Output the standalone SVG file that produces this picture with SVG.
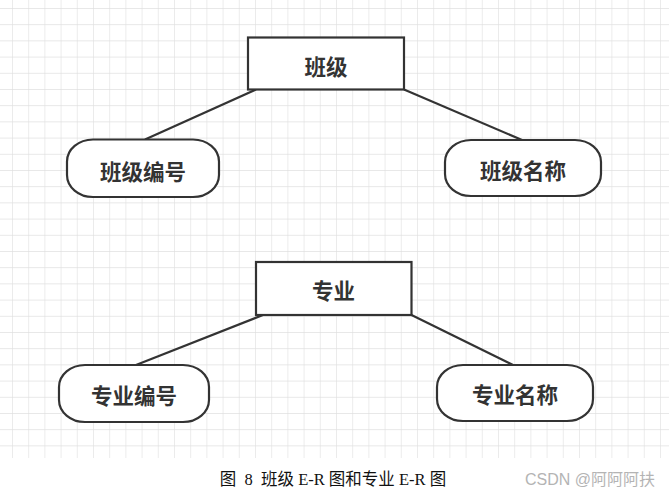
<svg xmlns="http://www.w3.org/2000/svg" width="669" height="500" viewBox="0 0 669 500">
<defs>
<pattern id="grid" x="12" y="8" width="16.2" height="16.2" patternUnits="userSpaceOnUse">
<path d="M0 0V16.2M0 0H16.2" fill="none" stroke="#e0e0e0" stroke-width="1.2"/>
</pattern>
</defs>
<style>
.ent{fill:#fff;stroke:#333;stroke-width:2.2}
.attr{fill:#fff;stroke:#333;stroke-width:2.2}
.lbl{font-family:"Noto Sans CJK SC","Noto Sans",sans-serif;font-weight:bold;font-size:21.5px;fill:#333;text-anchor:middle;dominant-baseline:central}
.conn line{stroke:#333;stroke-width:2.2}
</style>
<rect width="669" height="500" fill="#fff"/>
<rect x="0" y="0" width="669" height="458" fill="url(#grid)"/>
<g class="conn" id="connectors">
<line x1="256" y1="89.5" x2="145" y2="139.5"/>
<line x1="404" y1="89.5" x2="522" y2="140"/>
<line x1="263" y1="315" x2="136" y2="365"/>
<line x1="411.5" y1="315" x2="513" y2="365"/>
</g>
<g id="n_banji">
<rect class="ent" x="248" y="37.5" width="156" height="52"/>
<text class="lbl" x="326" y="65">班级</text>
</g>
<g id="n_banjibianhao">
<rect class="attr" x="67" y="139.5" width="152" height="57.5" rx="26" ry="22"/>
<text class="lbl" x="143" y="170">班级编号</text>
</g>
<g id="n_banjimingcheng">
<rect class="attr" x="445" y="140" width="156" height="56" rx="26" ry="22"/>
<text class="lbl" x="523" y="169">班级名称</text>
</g>
<g id="n_zhuanye">
<rect class="ent" x="256" y="262" width="155.5" height="53"/>
<text class="lbl" x="333.5" y="289">专业</text>
</g>
<g id="n_zhuanyebianhao">
<rect class="attr" x="59" y="365" width="150" height="57" rx="26" ry="22"/>
<text class="lbl" x="134" y="394">专业编号</text>
</g>
<g id="n_zhuanyemingcheng">
<rect class="attr" x="437" y="365" width="156" height="56" rx="26" ry="22"/>
<text class="lbl" x="515" y="393">专业名称</text>
</g>
<text x="333" y="485" font-family="'Liberation Serif','Noto Sans CJK SC',serif" font-size="16.5" fill="#111" text-anchor="middle" xml:space="preserve">图  8  班级 E-R 图和专业 E-R 图</text>
<text x="590" y="485" font-family="'Liberation Sans','Noto Sans CJK SC',sans-serif" font-size="16" fill="#b4b4b4" text-anchor="middle">CSDN @阿阿阿扶</text>
</svg>
